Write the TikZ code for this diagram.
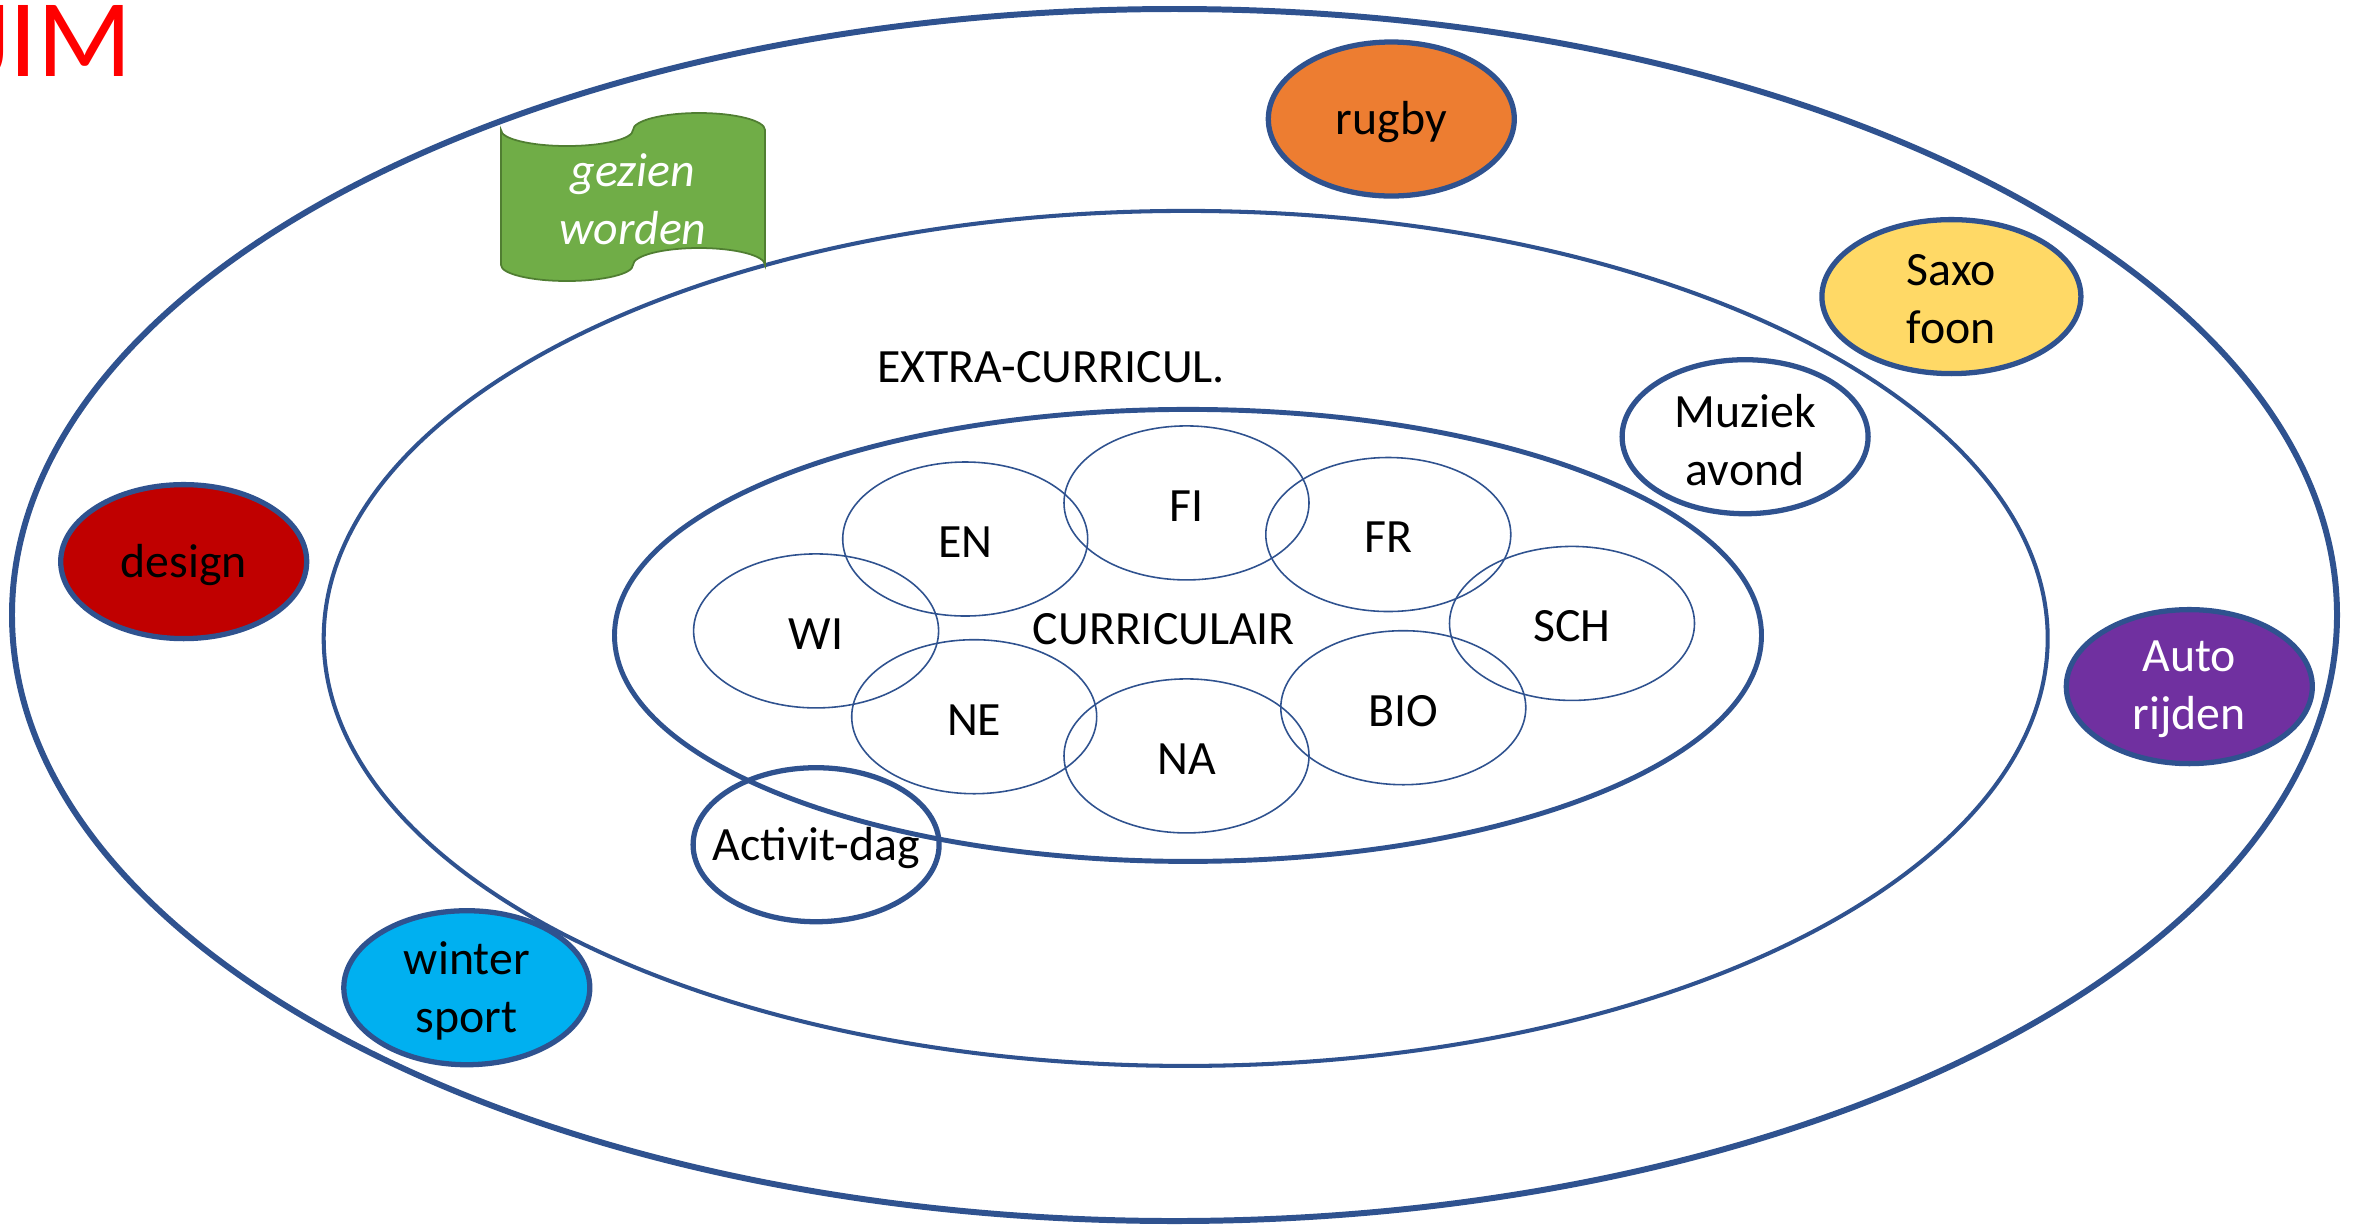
\documentclass[tikz,border=0pt]{standalone}
\usepackage{fontspec}
\setmainfont{Carlito}
\usepackage{xcolor}
\usepackage{tikz}
\usetikzlibrary{shapes.geometric}
\definecolor{ringblue}{HTML}{2F528F}
\definecolor{rugbyorange}{HTML}{ED7D31}
\definecolor{saxoyellow}{HTML}{FFD966}
\definecolor{autopurple}{HTML}{7030A0}
\definecolor{designred}{HTML}{C00000}
\definecolor{winterblue}{HTML}{00B0F0}
\definecolor{flaggreen}{HTML}{70AD47}
\definecolor{flagedge}{HTML}{507E32}

\begin{document}
\begin{tikzpicture}
    % Define node styles
    \tikzstyle{ring} = [ellipse, draw=ringblue, inner sep=0pt]
    \tikzstyle{txt} = [font=\fontsize{13.6}{16.5}\selectfont, align=center, inner sep=0pt, yshift=-0.03cm]
    \tikzstyle{subj} = [ellipse, draw=ringblue, line width=0.45pt, minimum width=2.45cm, minimum height=1.54cm, inner sep=0pt]
    \tikzstyle{hobby} = [ellipse, draw=ringblue, line width=1.5pt, minimum width=2.46cm, minimum height=1.54cm, inner sep=0pt]

    \useasboundingbox (0,0) rectangle (23.61,-12.26);

    % Title
    \node[text=red, font=\fontsize{31.5}{36}\selectfont, anchor=base east, inner sep=0pt] (title) at (1.33,-0.76) {JIM};

    % Rings
    \node[ring, line width=1.7pt, minimum width=23.25cm, minimum height=12.12cm] (outer) at (11.745,-6.15) {};
    \node[ring, line width=1.15pt, minimum width=17.24cm, minimum height=8.55cm] (extra) at (11.857,-6.384) {};
    \node[ring, line width=1.4pt, minimum width=11.47cm, minimum height=4.52cm] (curr) at (11.88,-6.354) {};

    \node[txt] (extralabel) at (10.51,-3.644) {EXTRA-CURRICUL.};
    \node[txt] (currlabel) at (11.639,-6.264) {CURRICULAIR};

    % Subjects
    \node[subj, label={[txt]center:EN}] (en) at (9.652,-5.390) {};
    \node[subj, label={[txt]center:FI}] (fi) at (11.865,-5.029) {};
    \node[subj, label={[txt]center:FR}] (fr) at (13.883,-5.345) {};
    \node[subj, label={[txt]center:WI}] (wi) at (8.161,-6.309) {};
    \node[subj, label={[txt]center:SCH}] (sch) at (15.720,-6.234) {};
    \node[subj, label={[txt]center:NE}] (ne) at (9.742,-7.167) {};
    \node[subj, label={[txt]center:NA}] (na) at (11.865,-7.559) {};
    \node[subj, label={[txt]center:BIO}] (bio) at (14.033,-7.077) {};

    % Hobbies
    \node[hobby, fill=rugbyorange, label={[txt]center:rugby}] (rugby) at (13.913,-1.190) {};
    \node[hobby, fill=saxoyellow, minimum width=2.59cm, label={[txt]center:{Saxo\\foon}}] (saxo) at (19.514,-2.966) {};
    \node[hobby, fill=white, label={[txt]center:{Muziek\\avond}}] (muziek) at (17.451,-4.367) {};
    \node[hobby, fill=autopurple, label={[txt, text=white]center:{Auto\\rijden}}] (auto) at (21.893,-6.866) {};
    \node[hobby, fill=designred, label={[txt]center:design}] (design) at (1.837,-5.616) {};
    \node[hobby, fill=winterblue, label={[txt]center:{winter\\sport}}] (winter) at (4.668,-9.877) {};
    \node[hobby, label={[txt]center:Activit-dag}] (activit) at (8.161,-8.447) {};

    % Flag
    \draw[fill=flaggreen, draw=flagedge, line width=0.5pt] (5.01,-1.30)
        arc[start angle=180, end angle=360, x radius=0.66, y radius=0.16]
        arc[start angle=180, end angle=0, x radius=0.66, y radius=0.17]
        -- (7.65,-2.65)
        arc[start angle=0, end angle=180, x radius=0.66, y radius=0.17]
        arc[start angle=360, end angle=180, x radius=0.66, y radius=0.16]
        -- cycle;
    \node[txt, text=white, font=\fontsize{13.6}{16.5}\selectfont\itshape] (seen) at (6.33,-1.96) {gezien\\worden};
\end{tikzpicture}
\end{document}
